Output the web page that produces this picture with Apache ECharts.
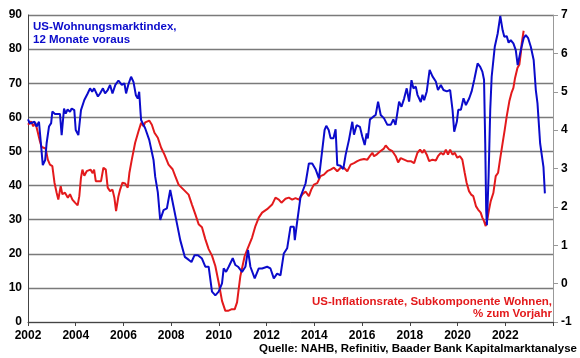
<!DOCTYPE html>
<html><head><meta charset="utf-8">
<script src="https://cdn.jsdelivr.net/npm/echarts@6/dist/echarts.min.js"></script>
<style>html,body{margin:0;padding:0;background:#fff}#c{width:580px;height:358px}</style>
</head><body><div id="c"></div>
<script>
// Blue: US-Wohnungsmarktindex (left axis), x = decimal year
const blueX = [2002.0,2002.08,2002.15,2002.27,2002.36,2002.46,2002.62,2002.72,2002.78,2002.88,2002.97,2003.02,2003.13,2003.34,2003.41,2003.51,2003.58,2003.66,2003.76,2003.83,2003.94,2004.0,2004.11,2004.22,2004.36,2004.5,2004.6,2004.69,2004.77,2004.93,2005.02,2005.14,2005.23,2005.34,2005.44,2005.54,2005.66,2005.79,2005.93,2006.04,2006.11,2006.2,2006.32,2006.42,2006.52,2006.6,2006.66,2006.72,2006.74,2006.91,2007.08,2007.26,2007.33,2007.44,2007.54,2007.68,2007.82,2007.96,2008.1,2008.24,2008.38,2008.57,2008.74,2008.85,2008.98,2009.12,2009.29,2009.43,2009.57,2009.71,2009.85,2009.99,2010.13,2010.2,2010.3,2010.41,2010.58,2010.69,2010.8,2010.97,2011.11,2011.22,2011.32,2011.5,2011.67,2011.81,2012.02,2012.16,2012.3,2012.44,2012.58,2012.72,2012.86,2013.0,2013.14,2013.18,2013.28,2013.42,2013.63,2013.77,2013.91,2014.05,2014.19,2014.33,2014.43,2014.5,2014.6,2014.68,2014.8,2014.89,2014.96,2015.1,2015.21,2015.31,2015.45,2015.59,2015.66,2015.77,2015.91,2016.01,2016.11,2016.19,2016.24,2016.33,2016.47,2016.57,2016.67,2016.78,2016.92,2017.06,2017.2,2017.31,2017.4,2017.55,2017.65,2017.76,2017.87,2017.97,2018.07,2018.15,2018.25,2018.32,2018.46,2018.53,2018.6,2018.71,2018.83,2018.95,2019.09,2019.18,2019.3,2019.41,2019.55,2019.69,2019.79,2019.86,2019.97,2020.03,2020.14,2020.25,2020.35,2020.49,2020.59,2020.7,2020.77,2020.84,2020.95,2021.04,2021.11,2021.16,2021.2,2021.23,2021.3,2021.37,2021.43,2021.56,2021.68,2021.79,2021.89,2021.96,2022.06,2022.14,2022.23,2022.34,2022.44,2022.52,2022.58,2022.65,2022.77,2022.86,2022.96,2023.07,2023.19,2023.28,2023.35,2023.46,2023.6,2023.66];
const blueY = [59.4,58.2,58.2,58.7,57.3,58.7,46.0,47.5,52.4,57.3,58.3,61.7,61.0,61.0,54.8,62.6,61.1,62.3,61.6,62.6,62.1,56.3,54.8,62.1,65.1,67.0,68.5,67.5,68.5,66.1,67,68.5,67,68,69.5,67,69.5,70.8,69.5,70,67,69.5,71.9,70.4,66.5,65.5,67.5,61,59.2,56.8,53.4,47.5,42.6,38,29.9,32.8,33.3,38.7,33.8,28.9,24,19.1,18.2,17.6,19.6,19.6,18.6,16.2,16.2,8.9,7.8,8.9,11.3,15.7,14.7,16.2,18.7,16.7,16.2,14.7,16.2,21.1,16.2,12.8,15.7,15.7,16.2,15.7,12.8,14.2,13.7,20.1,21.6,27.9,27.9,24.0,29.4,36.7,40.6,46.5,46.5,44.8,42.1,50.4,56.3,57.5,56.3,53.9,53.9,56.5,46,45.8,44.8,49,53.4,58.7,54.9,57.7,57.2,54.3,51.9,55.3,53.8,59.4,60.2,60.7,64.6,60.7,59.7,57.8,57.8,59.4,57.8,64.6,63.1,65.5,68.5,64.6,70.9,68.5,69,66.6,64.5,66.6,65,67.6,73.9,72,70.5,68,69.5,68,67.6,68,62.2,55.8,58.7,62.2,62.2,65.6,63.6,65.6,67.6,71,71.5,75.8,74.8,73.4,71,52.4,32.8,28.4,42.6,62.2,71.9,80.7,84.5,89.7,85.5,83.6,83.8,81.9,82.6,81.7,79.7,75.3,74.8,79.7,83.2,84.1,83.2,80.7,76.8,68,64.1,52.4,45.5,37.7];
// Red: US-Inflationsrate, Subkomponente Wohnen (right axis)
const redX = [2002.0,2002.05,2002.13,2002.22,2002.31,2002.4,2002.5,2002.57,2002.64,2002.74,2002.83,2002.92,2003.02,2003.11,2003.2,2003.27,2003.37,2003.44,2003.55,2003.67,2003.76,2003.86,2003.97,2004.08,2004.15,2004.22,2004.28,2004.36,2004.46,2004.53,2004.62,2004.71,2004.77,2004.84,2004.95,2005.06,2005.16,2005.26,2005.34,2005.44,2005.54,2005.62,2005.69,2005.79,2005.86,2005.96,2006.07,2006.18,2006.25,2006.35,2006.49,2006.63,2006.74,2006.84,2006.91,2007.08,2007.19,2007.3,2007.44,2007.58,2007.72,2007.89,2008.06,2008.17,2008.31,2008.52,2008.73,2008.87,2009.01,2009.15,2009.29,2009.43,2009.57,2009.71,2009.85,2009.99,2010.13,2010.27,2010.38,2010.52,2010.66,2010.76,2010.83,2010.9,2010.99,2011.08,2011.22,2011.39,2011.53,2011.67,2011.81,2012.02,2012.23,2012.37,2012.51,2012.62,2012.79,2012.93,2013.07,2013.21,2013.35,2013.49,2013.63,2013.77,2013.87,2013.98,2014.12,2014.26,2014.4,2014.54,2014.68,2014.82,2014.96,2015.1,2015.24,2015.38,2015.52,2015.66,2015.8,2015.94,2016.08,2016.22,2016.33,2016.43,2016.5,2016.62,2016.76,2016.9,2016.99,2017.13,2017.27,2017.41,2017.51,2017.62,2017.76,2017.9,2018.04,2018.18,2018.32,2018.43,2018.53,2018.6,2018.71,2018.81,2018.95,2019.09,2019.18,2019.3,2019.41,2019.51,2019.6,2019.69,2019.79,2019.88,2019.99,2020.1,2020.2,2020.3,2020.38,2020.48,2020.57,2020.66,2020.77,2020.86,2020.97,2021.04,2021.11,2021.18,2021.25,2021.32,2021.39,2021.5,2021.6,2021.7,2021.78,2021.89,2021.98,2022.06,2022.17,2022.26,2022.34,2022.41,2022.51,2022.59,2022.65,2022.69,2022.77];
const redY = [4.14,4.1,4.23,4.1,4.19,3.97,3.71,3.56,3.57,3.52,3.23,3.1,3.06,2.63,2.37,2.19,2.54,2.33,2.37,2.24,2.33,2.19,2.11,2.04,2.28,2.76,2.97,2.81,2.93,2.88,2.97,2.88,2.97,2.67,2.67,2.67,3.02,2.97,2.5,2.41,2.45,2.24,1.89,2.28,2.45,2.63,2.61,2.5,2.89,3.23,3.67,3.97,4.19,4.1,4.2,4.25,4.14,3.93,3.8,3.54,3.36,3.1,2.98,2.8,2.58,2.45,2.32,2.06,1.81,1.55,1.47,1.16,0.9,0.73,0.46,0.03,-0.45,-0.71,-0.71,-0.67,-0.67,-0.49,-0.14,0.2,0.46,0.72,0.94,1.2,1.5,1.72,1.85,1.94,2.06,2.24,2.19,2.11,2.21,2.24,2.19,2.23,2.19,2.32,2.4,2.28,2.45,2.58,2.62,2.8,2.84,2.93,2.97,3.02,2.93,3.02,3.02,2.93,3.1,3.14,3.19,3.23,3.25,3.23,3.33,3.41,3.32,3.37,3.45,3.51,3.6,3.5,3.45,3.32,3.16,3.27,3.23,3.19,3.19,3.14,3.41,3.49,3.41,3.49,3.36,3.19,3.23,3.21,3.32,3.41,3.36,3.49,3.36,3.49,3.36,3.41,3.28,3.32,3.23,2.89,2.63,2.41,2.32,2.28,2.02,1.93,1.85,1.72,1.63,1.5,1.68,1.93,2.15,2.36,2.8,2.89,3.23,3.67,4.02,4.36,4.75,4.97,5.1,5.36,5.62,5.71,6.0,6.26,6.59];
const xTicks = [2002,2004,2006,2008,2010,2012,2014,2016,2018,2020,2022];
const leftTicks = [0,10,20,30,40,50,60,70,80,90];
const rightTicks = [-1,0,1,2,3,4,5,6,7];

const FONT = 'Liberation Sans, Arial, sans-serif';
const BLUE = '#0B0BCB', RED = '#E31A1C';
const zip = (a, b) => a.map((x, i) => [x, b[i]]);

const chart = echarts.init(document.getElementById('c'), null, {renderer: 'canvas'});
chart.setOption({
  animation: false,
  backgroundColor: '#fff',
  grid: {left: 28, right: 27, top: 15, bottom: 36, containLabel: false},
  xAxis: {
    type: 'value', min: 2002, max: 2024, interval: 2,
    axisLine: {show: true, lineStyle: {color: '#444', width: 1}},
    axisTick: {show: true, length: 4, lineStyle: {color: '#444'}},
    splitLine: {show: false},
    axisLabel: {
      margin: 8, color: '#000', fontFamily: FONT, fontWeight: 'bold', fontSize: 12,
      formatter: v => xTicks.includes(v) ? String(v) : ''
    }
  },
  yAxis: [{
    type: 'value', min: leftTicks[0], max: leftTicks[leftTicks.length-1], interval: 10, position: 'left',
    axisLine: {show: true, lineStyle: {color: '#444', width: 1}},
    axisTick: {show: false},
    splitLine: {show: true, lineStyle: {color: '#7a7a7a', width: 1.3}},
    axisLabel: {margin: 6, color: '#000', fontFamily: FONT, fontWeight: 'bold', fontSize: 12}
  }, {
    type: 'value', min: rightTicks[0], max: rightTicks[rightTicks.length-1], interval: 1, position: 'right',
    axisLine: {show: true, lineStyle: {color: '#999', width: 1}},
    axisTick: {show: true, length: 5, lineStyle: {color: '#999'}},
    splitLine: {show: false},
    axisLabel: {margin: 8, color: '#000', fontFamily: FONT, fontWeight: 'bold', fontSize: 12}
  }],
  series: [{
    type: 'line', yAxisIndex: 1, data: zip(redX, redY), showSymbol: false, z: 2,
    lineStyle: {color: RED, width: 2}, itemStyle: {color: RED}
  }, {
    type: 'line', yAxisIndex: 0, data: zip(blueX, blueY), showSymbol: false, z: 3,
    lineStyle: {color: BLUE, width: 2}, itemStyle: {color: BLUE}
  }],
  graphic: [{
    type: 'text', left: 33, top: 20,
    style: {text: 'US-Wohnungsmarktindex,\n12 Monate voraus', fill: BLUE, font: 'bold 11.5px ' + FONT, lineHeight: 13}
  }, {
    type: 'text', right: 28, top: 296,
    style: {text: 'US-Inflationsrate, Subkomponente Wohnen,', fill: RED, font: 'bold 11.5px ' + FONT}
  }, {
    type: 'text', right: 28, top: 308,
    style: {text: '% zum Vorjahr', fill: RED, font: 'bold 11.5px ' + FONT}
  }, {
    type: 'text', right: 3, top: 343,
    style: {text: 'Quelle: NAHB, Refinitiv, Baader Bank Kapitalmarktanalyse', fill: '#000', font: 'bold 11.5px ' + FONT}
  }]
});
</script>
</body></html>
